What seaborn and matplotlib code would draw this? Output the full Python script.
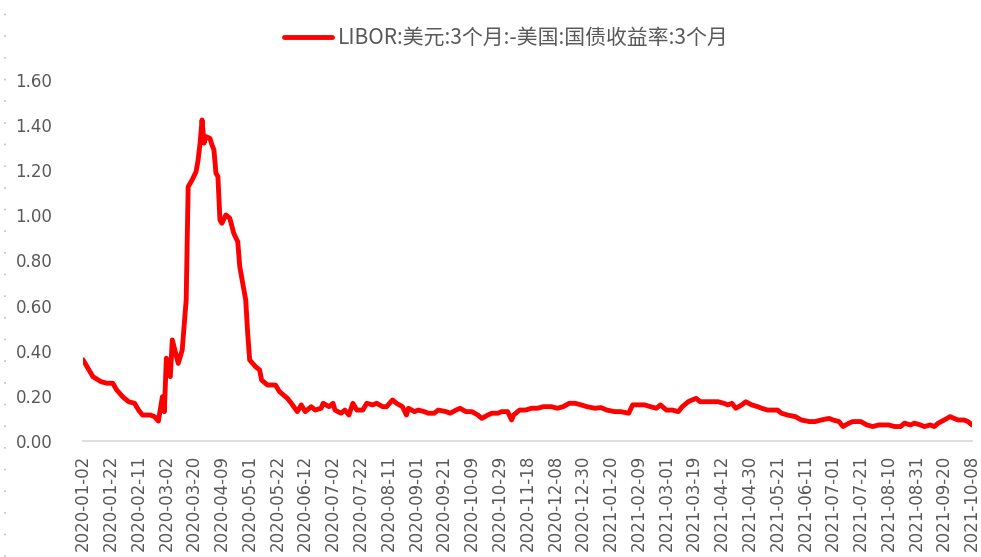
import numpy as np
import pandas as pd
import seaborn as sns
import matplotlib
matplotlib.use('Agg')
from matplotlib import pyplot as plt
from matplotlib.lines import Line2D

# trading-day index (0 = 2020-01-02, 448 = 2021-10-08) and spread values
day_idx = [0, 3, 5, 9, 12, 15, 17, 20, 23, 26, 28, 30, 34, 36, 38, 40, 41, 42, 44, 45,
           48, 50, 52, 53, 55, 57, 58, 59, 60, 61, 62, 64, 65, 66, 67, 68, 69, 70, 72, 74,
           76, 78, 79, 82, 83, 84, 87, 89, 90, 93, 97, 99, 103, 105, 108, 110, 112, 115, 117, 120,
           121, 124, 126, 127, 130, 132, 134, 136, 138, 141, 143, 146, 148, 151, 153, 156, 158, 161, 163, 164,
           167, 169, 172, 174, 177, 179, 183, 185, 188, 190, 193, 196, 199, 201, 204, 206, 209, 211, 214, 216,
           217, 220, 223, 226, 229, 232, 236, 239, 242, 245, 248, 251, 254, 258, 261, 264, 268, 271, 275, 277,
           280, 283, 286, 289, 291, 294, 297, 300, 302, 305, 307, 309, 311, 313, 317, 320, 323, 325, 327, 329,
           332, 334, 337, 340, 342, 345, 347, 350, 352, 355, 359, 362, 366, 369, 372, 376, 378, 381, 383, 386,
           388, 392, 395, 398, 401, 403, 406, 409, 412, 414, 417, 419, 422, 424, 427, 429, 431, 434, 437, 439,
           441, 444, 446, 448]
spread = [0.36, 0.315, 0.285, 0.263, 0.256, 0.256, 0.226, 0.196, 0.174, 0.167, 0.137, 0.115, 0.115, 0.108, 0.088, 0.196, 0.13, 0.367, 0.285, 0.448,
          0.344, 0.403, 0.625, 1.127, 1.157, 1.194, 1.245, 1.32, 1.423, 1.32, 1.349, 1.341, 1.312, 1.29, 1.187, 1.172, 0.98, 0.965, 1.002, 0.987,
          0.92, 0.883, 0.773, 0.625, 0.477, 0.359, 0.329, 0.315, 0.27, 0.248, 0.248, 0.219, 0.189, 0.167, 0.13, 0.16, 0.13, 0.152, 0.137, 0.145,
          0.167, 0.152, 0.167, 0.137, 0.123, 0.137, 0.115, 0.167, 0.137, 0.137, 0.167, 0.16, 0.167, 0.152, 0.152, 0.182, 0.167, 0.152, 0.115, 0.145,
          0.13, 0.137, 0.13, 0.123, 0.123, 0.137, 0.13, 0.123, 0.137, 0.145, 0.13, 0.13, 0.115, 0.1, 0.115, 0.123, 0.123, 0.13, 0.13, 0.093,
          0.115, 0.137, 0.137, 0.145, 0.145, 0.152, 0.152, 0.145, 0.152, 0.167, 0.167, 0.16, 0.152, 0.145, 0.148, 0.137, 0.13, 0.13, 0.123, 0.16,
          0.16, 0.16, 0.152, 0.145, 0.16, 0.137, 0.137, 0.13, 0.152, 0.174, 0.182, 0.189, 0.174, 0.174, 0.174, 0.174, 0.167, 0.16, 0.167, 0.145,
          0.16, 0.174, 0.16, 0.152, 0.145, 0.137, 0.137, 0.137, 0.123, 0.115, 0.108, 0.093, 0.086, 0.086, 0.093, 0.1, 0.093, 0.086, 0.064, 0.079,
          0.086, 0.086, 0.071, 0.064, 0.071, 0.071, 0.071, 0.064, 0.064, 0.079, 0.071, 0.079, 0.071, 0.064, 0.071, 0.064, 0.079, 0.093, 0.108, 0.1,
          0.093, 0.093, 0.086, 0.071]

tick_labels = ['2020-01-02', '2020-01-22', '2020-02-11', '2020-03-02', '2020-03-20', '2020-04-09',
               '2020-05-01', '2020-05-22', '2020-06-12', '2020-07-02', '2020-07-22', '2020-08-11',
               '2020-09-01', '2020-09-21', '2020-10-09', '2020-10-29', '2020-11-18', '2020-12-08',
               '2020-12-30', '2021-01-20', '2021-02-09', '2021-03-01', '2021-03-19', '2021-04-12',
               '2021-04-30', '2021-05-21', '2021-06-11', '2021-07-01', '2021-07-21', '2021-08-10',
               '2021-08-31', '2021-09-20', '2021-10-08']
y_ticks = [0.0, 0.2, 0.4, 0.6, 0.8, 1.0, 1.2, 1.4, 1.6]
series_name = 'LIBOR:美元:3个月:-美国:国债收益率:3个月'
TICK_STEP = 14

sns.set_theme(style='white')
plt.rcParams['font.family'] = ['Noto Sans CJK SC', 'DejaVu Sans']
TEXT_C = '#595959'

df = pd.DataFrame({'idx': day_idx, 'val': spread})

fig = plt.figure(figsize=(9.81, 5.57), dpi=100)
ax = fig.add_axes([0.0846, 0.2083, 0.9062, 0.6481])
sns.lineplot(data=df, x='idx', y='val', ax=ax, color='#ff0000', lw=3.5, label=series_name, legend=False)

ax.set_xlim(0, (len(tick_labels) - 1) * TICK_STEP)
ax.set_ylim(0, 1.6)
ax.set_xticks([i * TICK_STEP for i in range(len(tick_labels))])
ax.set_xticklabels(tick_labels, rotation=90, fontsize=12, color=TEXT_C, family='DejaVu Sans')
ax.set_yticks(y_ticks)
ax.set_yticklabels(['%.2f' % v for v in y_ticks], fontsize=12, color=TEXT_C, family='DejaVu Sans')
ax.tick_params(axis='both', length=0)
ax.tick_params(axis='y', pad=22)
ax.tick_params(axis='x', pad=10)
ax.set_xlabel('')
ax.set_ylabel('')
sns.despine(ax=ax, left=True)
ax.spines['bottom'].set_color('#d9d9d9')
ax.spines['bottom'].set_linewidth(1.2)

handles, labels = ax.get_legend_handles_labels()
leg = fig.legend(handles, labels, loc='center', bbox_to_anchor=(0.516, 0.932), frameon=False,
                 fontsize=15, handlelength=2.3, handletextpad=0.3)
for t in leg.get_texts():
    t.set_color(TEXT_C)

# dotted frame edge on the left
fig.add_artist(Line2D([0.005, 0.005], [0, 1], transform=fig.transFigure, color='#bfbfbf',
                      lw=1.2, linestyle=(0, (1, 12))))

fig.savefig('out.png', dpi=100)
